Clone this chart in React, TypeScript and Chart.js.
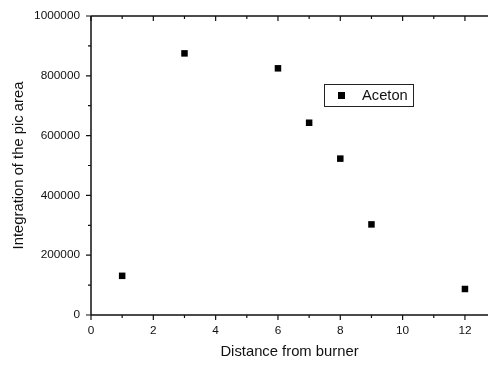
import React, { useEffect, useRef } from "react";
import { Chart, registerables } from "chart.js";

Chart.register(...registerables);

const seriesName = "Aceton";
const distances = [1, 3, 6, 7, 8, 9, 12];
const areas = [131000, 875000, 825000, 643000, 523000, 303000, 87000];
const xTicks = [0, 2, 4, 6, 8, 10, 12];
const xMinorTicks = [1, 3, 5, 7, 9, 11];
const yTicks = [0, 200000, 400000, 600000, 800000, 1000000];
const yMinorTicks = [100000, 300000, 500000, 700000, 900000];
const xTitle = "Distance from burner";
const yTitle = "Integration of the pic area";

const FONT = "'Liberation Sans', Arial, Helvetica, sans-serif";
const INK = "#111";

const axesPlugin = {
  id: "originAxes",
  afterDraw(chart: any) {
    const { ctx, chartArea } = chart;
    const xs = chart.scales.x;
    const ys = chart.scales.y;
    const { left, right, top, bottom } = chartArea;
    ctx.save();
    ctx.strokeStyle = INK;
    ctx.lineWidth = 1.5;
    ctx.beginPath();
    ctx.moveTo(left, top);
    ctx.lineTo(left, bottom);
    ctx.moveTo(left, bottom);
    ctx.lineTo(right, bottom);
    ctx.moveTo(left, top);
    ctx.lineTo(right, top);
    ctx.stroke();

    ctx.lineWidth = 1.2;
    ctx.beginPath();
    xTicks.forEach((v) => {
      const px = xs.getPixelForValue(v);
      ctx.moveTo(px, bottom);
      ctx.lineTo(px, bottom + 5);
      ctx.moveTo(px, top);
      ctx.lineTo(px, top + 5);
    });
    xMinorTicks.forEach((v) => {
      const px = xs.getPixelForValue(v);
      ctx.moveTo(px, bottom);
      ctx.lineTo(px, bottom + 3);
      ctx.moveTo(px, top);
      ctx.lineTo(px, top + 3);
    });
    yTicks.forEach((v) => {
      const py = ys.getPixelForValue(v);
      ctx.moveTo(left, py);
      ctx.lineTo(left - 5, py);
    });
    yMinorTicks.forEach((v) => {
      const py = ys.getPixelForValue(v);
      ctx.moveTo(left, py);
      ctx.lineTo(left - 3, py);
    });
    ctx.stroke();

    // legend box
    const bx = 324.5, by = 84.5, bw = 89, bh = 22;
    ctx.lineWidth = 1;
    ctx.strokeStyle = "#222";
    ctx.fillStyle = "#fff";
    ctx.fillRect(bx, by, bw, bh);
    ctx.strokeRect(bx, by, bw, bh);
    ctx.fillStyle = "#000";
    ctx.fillRect(338, 92, 7, 7);
    ctx.font = `14.7px ${FONT}`;
    ctx.textBaseline = "middle";
    ctx.textAlign = "left";
    ctx.fillStyle = INK;
    ctx.fillText(seriesName, 362, by + bh / 2 + 0.5);
    ctx.restore();
  },
};

export default function App() {
  const ref = useRef<HTMLCanvasElement | null>(null);

  useEffect(() => {
    document.body.style.margin = "0";
    const canvas = ref.current;
    if (!canvas) return;
    const chart = new Chart(canvas, {
      type: "scatter",
      data: {
        datasets: [
          {
            label: seriesName,
            data: distances.map((d, i) => ({ x: d, y: areas[i] })),
            pointStyle: "rect",
            pointRadius: 4.6,
            pointHoverRadius: 4.6,
            backgroundColor: "#000",
            borderColor: "#000",
            borderWidth: 0,
          },
        ],
      },
      options: {
        responsive: false,
        animation: false,
        devicePixelRatio: 1,
        layout: { autoPadding: false, padding: { top: 16, right: 0, left: 0, bottom: 0 } },
        plugins: {
          legend: { display: false },
          tooltip: { enabled: false },
        },
        scales: {
          x: {
            type: "linear",
            min: 0,
            max: 12.74,
            grid: { display: false, drawTicks: false },
            border: { display: false },
            afterBuildTicks: (scale: any) => {
              scale.ticks = xTicks.map((v) => ({ value: v }));
            },
            afterFit: (scale: any) => {
              scale.height = 53;
              scale.paddingLeft = 0;
              scale.paddingRight = 0;
            },
            ticks: {
              padding: 9,
              color: INK,
              font: { family: FONT, size: 11.8 },
              maxRotation: 0,
              autoSkip: false,
            },
            title: {
              display: true,
              text: xTitle,
              color: INK,
              font: { family: FONT, size: 14.8 },
              padding: { top: 0, bottom: 7.2 },
            },
          },
          y: {
            type: "linear",
            min: 0,
            max: 1000000,
            grid: { display: false, drawTicks: false },
            border: { display: false },
            afterBuildTicks: (scale: any) => {
              scale.ticks = yTicks.map((v) => ({ value: v }));
            },
            afterFit: (scale: any) => {
              scale.width = 91;
              scale.paddingTop = 0;
              scale.paddingBottom = 0;
            },
            ticks: {
              padding: 11,
              color: INK,
              font: { family: FONT, size: 11.8 },
              autoSkip: false,
              callback: (v: any) => String(v),
            },
            title: {
              display: true,
              text: yTitle,
              color: INK,
              font: { family: FONT, size: 14.8 },
              padding: { top: 10.2, bottom: 0 },
            },
          },
        },
      },
      plugins: [axesPlugin],
    });
    return () => chart.destroy();
  }, []);

  return (
    <div style={{ width: 488, height: 368, background: "#fff" }}>
      <canvas ref={ref} width={488} height={368} style={{ display: "block", width: 488, height: 368 }} />
    </div>
  );
}
